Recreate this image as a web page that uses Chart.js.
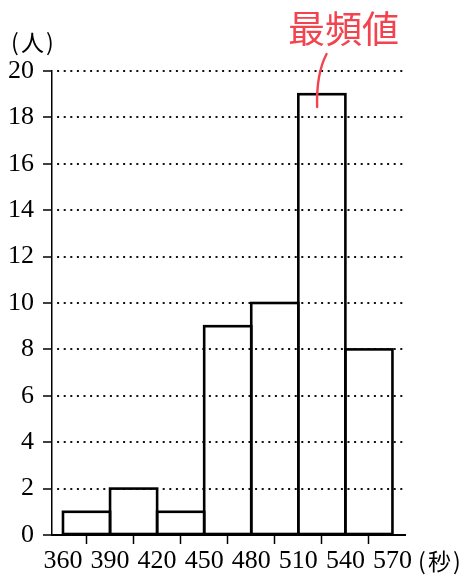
<!DOCTYPE html>
<html>
<head>
<meta charset="utf-8">
<script src="https://cdn.jsdelivr.net/npm/chart.js@4/dist/chart.umd.min.js"></script>
<style>
  body { margin: 0; background: #fff; }
  #wrap { width: 463px; height: 579px; }
</style>
</head>
<body>
<div id="wrap"><canvas id="hist" width="463" height="579"></canvas></div>
<script>
// class edges (seconds) and counts (people)
var edges = [360, 390, 420, 450, 480, 510, 540, 570];
var counts = [1, 2, 1, 9, 10, 19, 8];
var yTicks = [0, 2, 4, 6, 8, 10, 12, 14, 16, 18, 20];
var yUnit = "人";
var xUnit = "秒";
var modeLabel = "最頻値";

var serif = "'Liberation Serif', 'DejaVu Serif', serif";
var jp = "'Noto Sans CJK JP', sans-serif";

// bars sit on the middle of each class
var barData = [];
for (var i = 0; i < counts.length; i++) {
  barData.push({ x: (edges[i] + edges[i + 1]) / 2, y: counts[i] });
}

// draw "(unit)" with the parentheses spread a little
function unitLabel(ctx, word, left, y) {
  ctx.font = "23px " + jp;
  ctx.textAlign = "left";
  ctx.fillText("(", left, y);
  ctx.fillText(word, left + 10, y);
  ctx.fillText(")", left + 35, y);
}

// outline each bar so neighbours share one edge
var outlines = {
  id: "outlines",
  afterDatasetsDraw: function(chart) {
    var ctx = chart.ctx;
    ctx.save();
    ctx.strokeStyle = "#000";
    ctx.lineWidth = 2.6;
    chart.getDatasetMeta(0).data.forEach(function(bar) {
      var p = bar.getProps(["x", "y", "base", "width"], true);
      ctx.strokeRect(p.x - p.width / 2, p.y, p.width, p.base - p.y);
    });
    ctx.restore();
  }
};

// unit labels and the red note for the mode
var notes = {
  id: "notes",
  afterDraw: function(chart) {
    var ctx = chart.ctx;
    var xs = chart.scales.x, ys = chart.scales.y;
    ctx.save();
    ctx.fillStyle = "#000";
    ctx.textBaseline = "middle";
    unitLabel(ctx, yUnit, 11, 42);
    unitLabel(ctx, xUnit, 418, 561);

    var modeIdx = counts.indexOf(Math.max.apply(null, counts));
    var mid = (edges[modeIdx] + edges[modeIdx + 1]) / 2;
    ctx.fillStyle = "#f2434f";
    ctx.strokeStyle = "#f2434f";
    ctx.font = "37px " + jp;
    ctx.textAlign = "center";
    ctx.fillText(modeLabel, xs.getPixelForValue(mid + 15) - 2, 29);
    ctx.lineWidth = 2.4;
    ctx.lineCap = "round";
    ctx.beginPath();
    var x0 = xs.getPixelForValue(mid + 3), y0 = 54;
    var x1 = xs.getPixelForValue(mid - 3), y1 = ys.getPixelForValue(counts[modeIdx] - 0.55);
    ctx.moveTo(x0, y0);
    ctx.quadraticCurveTo(x1 - 1, y0 + 20, x1, y1);
    ctx.stroke();
    ctx.restore();
  }
};

var ctx = document.getElementById("hist").getContext("2d");
var histChart = new Chart(ctx, {
  type: "bar",
  data: {
    datasets: [{
      data: barData,
      backgroundColor: "rgba(255,255,255,0)",
      borderWidth: 0,
      barPercentage: 1,
      categoryPercentage: 1
    }]
  },
  options: {
    responsive: false,
    animation: false,
    layout: { padding: { top: 71, right: 58, left: 0, bottom: 0 } },
    plugins: { legend: { display: false }, tooltip: { enabled: false } },
    scales: {
      x: {
        type: "linear",
        offset: false,
        min: 353,
        max: 578,
        afterBuildTicks: function(scale) {
          scale.ticks = edges.map(function(v) { return { value: v }; });
        },
        afterFit: function(scale) { scale.height = 44; },
        grid: { drawOnChartArea: false, drawTicks: true, tickLength: 9, tickColor: "#000", tickWidth: 1.5 },
        border: { display: true, color: "#000", width: 2 },
        ticks: { color: "#000", font: { family: serif, size: 26 }, padding: 2, maxRotation: 0, autoSkip: false }
      },
      y: {
        min: 0,
        max: 20,
        afterBuildTicks: function(scale) {
          scale.ticks = yTicks.map(function(v) { return { value: v }; });
        },
        afterFit: function(scale) { scale.width = 52; },
        grid: {
          color: function(c) { return c.tick && c.tick.value === 0 ? "rgba(0,0,0,0)" : "#111"; },
          lineWidth: 2,
          drawTicks: true,
          tickLength: 9,
          tickColor: "#000",
          tickWidth: 1.5
        },
        border: { display: true, color: "#000", width: 1.5, dash: [2, 4.6], dashOffset: 2 },
        ticks: { color: "#000", font: { family: serif, size: 26 }, padding: 9 }
      }
    }
  },
  plugins: [outlines, notes]
});
</script>
</body>
</html>
